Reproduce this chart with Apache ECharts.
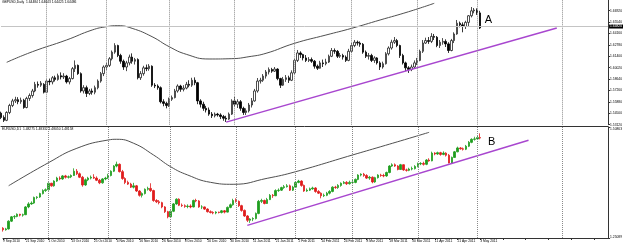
<!DOCTYPE html>
<html><head><meta charset="utf-8">
<script src="https://cdn.jsdelivr.net/npm/echarts/dist/echarts.min.js"></script>
<style>html,body{margin:0;padding:0;background:#fff}#c{width:625px;height:246px}</style>
</head><body><div id="c"></div>
<script>
// x-axis tick labels (every 8th daily bar)
const tickLabels = ['9 Sep 2010','21 Sep 2010','1 Oct 2010','13 Oct 2010','25 Oct 2010','4 Nov 2010','16 Nov 2010','26 Nov 2010','8 Dec 2010','20 Dec 2010','30 Dec 2010','11 Jan 2011','21 Jan 2011','2 Feb 2011','14 Feb 2011','24 Feb 2011','8 Mar 2011','18 Mar 2011','30 Mar 2011','11 Apr 2011','21 Apr 2011','3 May 2011'];
const slotCount = 214; // daily slots incl. empty right margin
const headers = ['GBPUSD,Daily  1.64484 1.64643 1.64425 1.64486', 'EURUSD,D1  1.48275 1.48332 1.48050 1.48158'];
// GBPUSD daily [open, close, low, high]
const gbpOHLC = [
[1.5452,1.5400,1.5380,1.5470],[1.5400,1.5365,1.5345,1.5425],[1.5365,1.5460,1.5355,1.5475],[1.5460,1.5545,1.5440,1.5565],
[1.5545,1.5600,1.5525,1.5625],[1.5600,1.5615,1.5575,1.5650],[1.5615,1.5590,1.5560,1.5645],[1.5590,1.5608,1.5565,1.5640],
[1.5608,1.5520,1.5505,1.5625],[1.5520,1.5630,1.5510,1.5650],[1.5630,1.5665,1.5600,1.5690],[1.5665,1.5720,1.5640,1.5745],
[1.5720,1.5800,1.5705,1.5830],[1.5800,1.5790,1.5760,1.5835],[1.5790,1.5815,1.5770,1.5840],[1.5800,1.5705,1.5690,1.5815],
[1.5705,1.5840,1.5700,1.5860],[1.5840,1.5830,1.5790,1.5870],[1.5830,1.5880,1.5800,1.5900],[1.5880,1.5860,1.5835,1.5905],
[1.5860,1.5905,1.5845,1.5930],[1.5905,1.5890,1.5860,1.5945],[1.5890,1.5900,1.5865,1.5935],[1.5900,1.5830,1.5810,1.5915],
[1.5830,1.5870,1.5800,1.5890],[1.5870,1.5990,1.5860,1.6010],[1.5990,1.6030,1.5950,1.6090],[1.6030,1.5930,1.5915,1.6040],
[1.5930,1.5720,1.5700,1.5945],[1.5720,1.5760,1.5690,1.5790],[1.5760,1.5690,1.5647,1.5785],[1.5690,1.5720,1.5670,1.5745],
[1.5720,1.5705,1.5675,1.5750],[1.5705,1.5760,1.5680,1.5785],[1.5760,1.5840,1.5740,1.5860],[1.5840,1.5930,1.5820,1.5950],
[1.5930,1.6010,1.5900,1.6030],[1.6010,1.6030,1.5975,1.6060],[1.6030,1.6110,1.6010,1.6130],[1.6110,1.6190,1.6090,1.6210],
[1.6190,1.6270,1.6170,1.6298],[1.6270,1.6150,1.6130,1.6280],[1.6150,1.6080,1.6050,1.6170],[1.6080,1.6010,1.5975,1.6100],
[1.6010,1.6060,1.5960,1.6085],[1.6060,1.6130,1.6030,1.6160],[1.6130,1.6080,1.6050,1.6175],[1.6080,1.6100,1.6040,1.6120],
[1.6100,1.5880,1.5860,1.6115],[1.5880,1.5930,1.5853,1.5960],[1.5930,1.6000,1.5905,1.6025],[1.6000,1.5990,1.5960,1.6040],
[1.5990,1.6020,1.5965,1.6045],[1.6020,1.5790,1.5770,1.6030],[1.5790,1.5780,1.5755,1.5815],[1.5780,1.5760,1.5735,1.5800],
[1.5760,1.5590,1.5570,1.5775],[1.5590,1.5570,1.5535,1.5620],[1.5570,1.5545,1.5510,1.5590],[1.5545,1.5620,1.5526,1.5640],
[1.5620,1.5640,1.5600,1.5665],[1.5640,1.5720,1.5630,1.5745],[1.5720,1.5780,1.5700,1.5800],[1.5780,1.5740,1.5710,1.5795],
[1.5740,1.5755,1.5715,1.5790],[1.5755,1.5800,1.5740,1.5830],[1.5800,1.5790,1.5765,1.5850],[1.5790,1.5850,1.5770,1.5880],
[1.5850,1.5820,1.5790,1.5885],[1.5820,1.5600,1.5560,1.5830],[1.5600,1.5560,1.5520,1.5620],[1.5560,1.5510,1.5480,1.5590],
[1.5510,1.5490,1.5460,1.5540],[1.5490,1.5440,1.5420,1.5520],[1.5440,1.5420,1.5393,1.5465],[1.5420,1.5440,1.5400,1.5460],
[1.5440,1.5430,1.5410,1.5455],[1.5430,1.5410,1.5380,1.5450],[1.5410,1.5390,1.5360,1.5430],[1.5390,1.5380,1.5345,1.5420],
[1.5380,1.5440,1.5370,1.5460],[1.5440,1.5600,1.5430,1.5620],[1.5600,1.5560,1.5530,1.5647],[1.5560,1.5590,1.5514,1.5620],
[1.5590,1.5510,1.5480,1.5610],[1.5510,1.5460,1.5430,1.5530],[1.5460,1.5480,1.5430,1.5510],[1.5480,1.5550,1.5460,1.5575],
[1.5550,1.5600,1.5520,1.5635],[1.5600,1.5720,1.5590,1.5745],[1.5720,1.5840,1.5700,1.5877],[1.5840,1.5850,1.5810,1.5880],
[1.5850,1.5900,1.5830,1.5925],[1.5900,1.5950,1.5870,1.5974],[1.5950,1.5980,1.5920,1.6005],[1.5980,1.5960,1.5940,1.6000],
[1.5960,1.5985,1.5950,1.6010],[1.5985,1.5870,1.5850,1.5995],[1.5870,1.5790,1.5756,1.5880],[1.5790,1.5860,1.5780,1.5890],
[1.5860,1.5880,1.5830,1.5913],[1.5880,1.5850,1.5817,1.5905],[1.5850,1.5940,1.5840,1.5970],[1.5940,1.6090,1.5920,1.6110],
[1.6090,1.6180,1.6070,1.6216],[1.6180,1.6160,1.6120,1.6200],[1.6160,1.6120,1.6090,1.6170],[1.6120,1.6090,1.6070,1.6155],
[1.6090,1.6100,1.6070,1.6130],[1.6100,1.6080,1.6060,1.6125],[1.6080,1.6020,1.5990,1.6095],[1.6020,1.5995,1.5974,1.6040],
[1.5995,1.6060,1.5990,1.6085],[1.6060,1.6050,1.6010,1.6100],[1.6050,1.6070,1.6030,1.6110],[1.6070,1.6140,1.6059,1.6160],
[1.6140,1.6210,1.6130,1.6240],[1.6210,1.6200,1.6170,1.6235],[1.6200,1.6140,1.6119,1.6216],[1.6140,1.6150,1.6120,1.6180],
[1.6150,1.6130,1.6100,1.6170],[1.6130,1.6090,1.6071,1.6150],[1.6090,1.6200,1.6080,1.6230],[1.6200,1.6270,1.6180,1.6300],
[1.6270,1.6310,1.6250,1.6337],[1.6310,1.6300,1.6270,1.6330],[1.6300,1.6285,1.6255,1.6320],[1.6285,1.6190,1.6170,1.6300],
[1.6190,1.6140,1.6119,1.6210],[1.6140,1.6150,1.6100,1.6180],[1.6150,1.6090,1.6070,1.6170],[1.6090,1.6120,1.6060,1.6140],
[1.6120,1.6060,1.6040,1.6130],[1.6060,1.6010,1.5974,1.6080],[1.6010,1.6050,1.5990,1.6075],[1.6050,1.6170,1.6040,1.6190],
[1.6170,1.6240,1.6150,1.6260],[1.6240,1.6310,1.6220,1.6340],[1.6310,1.6330,1.6290,1.6373],[1.6330,1.6270,1.6250,1.6350],
[1.6270,1.6150,1.6120,1.6280],[1.6150,1.6060,1.6040,1.6170],[1.6060,1.6000,1.5960,1.6075],[1.6000,1.5980,1.5938,1.6020],
[1.5980,1.6010,1.5960,1.6040],[1.6010,1.6060,1.5990,1.6090],[1.6060,1.6090,1.6034,1.6120],[1.6090,1.6200,1.6080,1.6220],
[1.6200,1.6300,1.6180,1.6337],[1.6300,1.6330,1.6290,1.6365],[1.6330,1.6320,1.6290,1.6373],[1.6320,1.6380,1.6300,1.6420],
[1.6380,1.6370,1.6337,1.6410],[1.6370,1.6270,1.6250,1.6385],[1.6270,1.6310,1.6240,1.6337],[1.6310,1.6320,1.6280,1.6360],
[1.6320,1.6290,1.6252,1.6345],[1.6290,1.6210,1.6180,1.6310],[1.6210,1.6330,1.6200,1.6350],[1.6330,1.6410,1.6300,1.6430],
[1.6410,1.6540,1.6400,1.6579],[1.6540,1.6520,1.6490,1.6560],[1.6520,1.6500,1.6430,1.6550],[1.6500,1.6550,1.6470,1.6570],
[1.6550,1.6630,1.6494,1.6639],[1.6630,1.6690,1.6610,1.6736],[1.6690,1.6700,1.6660,1.6724],[1.6700,1.6665,1.6640,1.6720],
[1.6665,1.6482,1.6470,1.6690]
];
// EURUSD daily [open, close, low, high]
const eurOHLC = [
[1.2735,1.2700,1.2657,1.2760],[1.2700,1.2720,1.2680,1.2745],[1.2720,1.2900,1.2705,1.2920],[1.2900,1.3000,1.2880,1.3020],
[1.3000,1.3010,1.2950,1.3040],[1.3010,1.3060,1.2990,1.3080],[1.3060,1.3040,1.3010,1.3070],[1.3040,1.3050,1.3005,1.3075],
[1.3050,1.3230,1.3040,1.3250],[1.3230,1.3300,1.3200,1.3340],[1.3300,1.3320,1.3280,1.3360],[1.3320,1.3450,1.3300,1.3470],
[1.3450,1.3460,1.3410,1.3480],[1.3460,1.3540,1.3440,1.3560],[1.3540,1.3610,1.3520,1.3640],[1.3610,1.3630,1.3580,1.3660],
[1.3630,1.3780,1.3610,1.3800],[1.3780,1.3720,1.3700,1.3790],[1.3720,1.3830,1.3700,1.3850],[1.3830,1.3900,1.3810,1.3930],
[1.3900,1.3880,1.3850,1.3940],[1.3880,1.3950,1.3860,1.3970],[1.3950,1.3920,1.3890,1.3975],[1.3920,1.3930,1.3890,1.3960],
[1.3930,1.3960,1.3900,1.3985],[1.3960,1.4060,1.3950,1.4127],[1.4060,1.4000,1.3970,1.4110],[1.4000,1.3920,1.3900,1.4030],
[1.3920,1.3740,1.3700,1.3950],[1.3740,1.3860,1.3720,1.3890],[1.3860,1.3900,1.3830,1.3930],[1.3900,1.3920,1.3870,1.3960],
[1.3920,1.3900,1.3880,1.3990],[1.3900,1.3850,1.3830,1.3940],[1.3850,1.3790,1.3760,1.3880],[1.3790,1.3880,1.3770,1.3900],
[1.3880,1.3900,1.3850,1.3930],[1.3900,1.3960,1.3880,1.4000],[1.3960,1.4060,1.3940,1.4080],[1.4060,1.4180,1.4040,1.4200],
[1.4180,1.4220,1.4150,1.4282],[1.4220,1.4050,1.4030,1.4240],[1.4050,1.3890,1.3860,1.4090],[1.3890,1.3800,1.3760,1.3920],
[1.3800,1.3760,1.3740,1.3840],[1.3760,1.3690,1.3670,1.3790],[1.3690,1.3720,1.3660,1.3790],[1.3720,1.3600,1.3580,1.3740],
[1.3600,1.3500,1.3470,1.3620],[1.3500,1.3540,1.3450,1.3570],[1.3540,1.3640,1.3520,1.3660],[1.3640,1.3660,1.3610,1.3700],
[1.3660,1.3610,1.3580,1.3780],[1.3610,1.3380,1.3350,1.3630],[1.3380,1.3350,1.3320,1.3410],[1.3350,1.3330,1.3290,1.3390],
[1.3330,1.3230,1.3200,1.3350],[1.3230,1.3120,1.3090,1.3250],[1.3120,1.3000,1.2966,1.3140],[1.3000,1.3130,1.2990,1.3150],
[1.3130,1.3300,1.3110,1.3320],[1.3300,1.3410,1.3280,1.3430],[1.3410,1.3270,1.3250,1.3430],[1.3270,1.3260,1.3230,1.3310],
[1.3260,1.3240,1.3210,1.3290],[1.3240,1.3250,1.3200,1.3290],[1.3250,1.3230,1.3200,1.3290],[1.3230,1.3380,1.3220,1.3400],
[1.3380,1.3370,1.3340,1.3420],[1.3370,1.3230,1.3210,1.3390],[1.3230,1.3230,1.3180,1.3270],[1.3230,1.3180,1.3160,1.3240],
[1.3180,1.3120,1.3100,1.3200],[1.3120,1.3100,1.3080,1.3150],[1.3100,1.3090,1.3060,1.3130],[1.3090,1.3110,1.3060,1.3130],
[1.3110,1.3100,1.3080,1.3120],[1.3100,1.3140,1.3080,1.3160],[1.3140,1.3110,1.3080,1.3160],[1.3110,1.3220,1.3100,1.3240],
[1.3220,1.3280,1.3200,1.3310],[1.3280,1.3380,1.3260,1.3420],[1.3380,1.3360,1.3330,1.3430],[1.3360,1.3260,1.3230,1.3380],
[1.3260,1.3150,1.3120,1.3280],[1.3150,1.3020,1.3000,1.3170],[1.3020,1.2920,1.2880,1.3040],[1.2920,1.2950,1.2860,1.2970],
[1.2950,1.2960,1.2900,1.2990],[1.2960,1.3080,1.2940,1.3100],[1.3080,1.3360,1.3060,1.3392],[1.3360,1.3380,1.3320,1.3420],
[1.3380,1.3310,1.3290,1.3400],[1.3310,1.3400,1.3300,1.3440],[1.3400,1.3500,1.3390,1.3530],[1.3500,1.3490,1.3440,1.3530],
[1.3490,1.3610,1.3480,1.3640],[1.3610,1.3620,1.3580,1.3660],[1.3620,1.3680,1.3600,1.3700],[1.3680,1.3700,1.3650,1.3740],
[1.3700,1.3720,1.3680,1.3760],[1.3720,1.3620,1.3600,1.3750],[1.3620,1.3690,1.3600,1.3720],[1.3690,1.3800,1.3680,1.3830],
[1.3800,1.3830,1.3780,1.3860],[1.3830,1.3730,1.3700,1.3850],[1.3730,1.3600,1.3580,1.3750],[1.3600,1.3620,1.3580,1.3660],
[1.3620,1.3650,1.3600,1.3680],[1.3650,1.3670,1.3630,1.3700],[1.3670,1.3590,1.3560,1.3690],[1.3590,1.3550,1.3530,1.3620],
[1.3550,1.3490,1.3430,1.3570],[1.3490,1.3500,1.3460,1.3540],[1.3500,1.3550,1.3480,1.3580],[1.3550,1.3590,1.3520,1.3620],
[1.3590,1.3690,1.3570,1.3710],[1.3690,1.3680,1.3650,1.3720],[1.3680,1.3730,1.3650,1.3760],[1.3730,1.3780,1.3700,1.3800],
[1.3780,1.3800,1.3760,1.3830],[1.3800,1.3770,1.3740,1.3830],[1.3770,1.3800,1.3750,1.3840],[1.3800,1.3800,1.3760,1.3860],
[1.3800,1.3870,1.3780,1.3890],[1.3870,1.3970,1.3850,1.3990],[1.3970,1.3990,1.3940,1.4011],[1.3990,1.3960,1.3930,1.4020],
[1.3960,1.3900,1.3880,1.3990],[1.3900,1.3920,1.3860,1.3950],[1.3920,1.3810,1.3780,1.3940],[1.3810,1.3910,1.3790,1.3930],
[1.3910,1.3970,1.3890,1.3990],[1.3970,1.3960,1.3930,1.4000],[1.3960,1.3950,1.3920,1.4000],[1.3950,1.4030,1.3930,1.4050],
[1.4030,1.4180,1.4011,1.4200],[1.4180,1.4210,1.4160,1.4243],[1.4210,1.4180,1.4160,1.4240],[1.4180,1.4100,1.4080,1.4200],
[1.4100,1.4210,1.4089,1.4230],[1.4210,1.4090,1.4070,1.4220],[1.4090,1.4080,1.4050,1.4120],[1.4080,1.4110,1.4060,1.4140],
[1.4110,1.4120,1.4080,1.4166],[1.4120,1.4170,1.4100,1.4200],[1.4170,1.4230,1.4150,1.4260],[1.4230,1.4240,1.4200,1.4270],
[1.4240,1.4220,1.4190,1.4280],[1.4220,1.4320,1.4200,1.4340],[1.4320,1.4300,1.4280,1.4360],[1.4300,1.4480,1.4290,1.4514],
[1.4480,1.4460,1.4430,1.4500],[1.4460,1.4490,1.4440,1.4514],[1.4490,1.4450,1.4420,1.4510],[1.4450,1.4480,1.4430,1.4520],
[1.4480,1.4430,1.4400,1.4500],[1.4430,1.4250,1.4243,1.4460],[1.4250,1.4380,1.4240,1.4400],[1.4380,1.4510,1.4370,1.4530],
[1.4510,1.4600,1.4500,1.4630],[1.4600,1.4580,1.4560,1.4620],[1.4580,1.4570,1.4540,1.4610],[1.4570,1.4640,1.4550,1.4670],
[1.4640,1.4730,1.4620,1.4760],[1.4730,1.4800,1.4710,1.4824],[1.4800,1.4810,1.4770,1.4860],[1.4810,1.4840,1.4790,1.4900],
[1.4840,1.4830,1.4800,1.4940]
];
// drawn cycle curves [barIndex, price]
const gbpCurve = [[2,1.6067],[11,1.6195],[23,1.6337],[32,1.6458],[37,1.6498],[41,1.6510],[46,1.6478],[53,1.6377],[59,1.6256],[65,1.6164],[73,1.6107],[81,1.6111],[87,1.6135],[93,1.6176],[103,1.6297],[114,1.6397],[123,1.6478],[133,1.6579],[143,1.6679],[152,1.6781]];
const eurCurve = [[2,1.3723],[16,1.4257],[26,1.4592],[37,1.4784],[40,1.4801],[46,1.4708],[53,1.4436],[59,1.4164],[65,1.3972],[73,1.3802],[81,1.3756],[93,1.3895],[103,1.4048],[123,1.4436],[133,1.4629],[143,1.4824],[150,1.4963]];
// trend lines
const gbpTrend = [[79,1.5343],[195,1.6481]];
const eurTrend = [[86,1.2802],[185,1.4779]];
// period separators (bar index of month start) + extra vertical line
const separators = [16,37,59,82,103,123,146,167,197];
// price scales
const gbpScale = {min:1.5312, max:1.68209, step:0.0138};
const eurScale = {min:1.25089, max:1.50863};
const gbpLast = 1.6482;
const notes = [{text:'A', at:[171,1.6579]}, {text:'B', at:[172,1.4738]}];

const categories = Array.from({length: slotCount}, (_, i) => String(i));
const small = 3.3;
const FONT = 'Liberation Sans';
const sepLines = separators.map(i => ({xAxis: i}));
const sepStyle = {type:'dotted', color:'#8a8a8a', width:1};

const chart = echarts.init(document.getElementById('c'), null, {renderer:'canvas'});
chart.setOption({
  animation:false,
  backgroundColor:'#fff',
  textStyle:{fontFamily:FONT},
  title:[
    {text:headers[0], left:2, top:1, padding:0, textStyle:{fontSize:small, fontWeight:'normal', color:'#000', fontFamily:FONT}},
    {text:headers[1], left:2, top:128, padding:0, textStyle:{fontSize:small, fontWeight:'normal', color:'#000', fontFamily:FONT}}
  ],
  grid:[
    {left:1, top:0, width:610, height:124.7},
    {left:1, top:127, width:610, height:111}
  ],
  xAxis:[
    {type:'category', gridIndex:0, data:categories, boundaryGap:false, offset:2,
     axisLine:{show:true, lineStyle:{color:'#333', width:1}}, axisTick:{show:false}, axisLabel:{show:false}, splitLine:{show:false}},
    {type:'category', gridIndex:1, data:categories, boundaryGap:false,
     axisLine:{show:true, lineStyle:{color:'#333', width:1}},
     axisTick:{show:true, interval:7, length:2, lineStyle:{color:'#333'}},
     axisLabel:{interval:7, align:'left', fontSize:small, margin:2, color:'#000', fontFamily:FONT,
       formatter:(v, i) => tickLabels[i / 8] || ''},
     splitLine:{show:false}}
  ],
  yAxis:[
    {type:'value', gridIndex:0, position:'right', min:gbpScale.min, max:gbpScale.max, interval:gbpScale.step,
     splitLine:{show:false}, axisLine:{show:true, lineStyle:{color:'#333'}}, axisTick:{show:true, length:2, lineStyle:{color:'#333'}},
     axisLabel:{fontSize:small, margin:2, color:'#000', fontFamily:FONT, showMaxLabel:false, formatter:v => v.toFixed(5)}},
    {type:'value', gridIndex:1, position:'right', min:eurScale.min, max:eurScale.max, interval:eurScale.max - eurScale.min,
     splitLine:{show:false}, axisLine:{show:true, lineStyle:{color:'#333'}}, axisTick:{show:true, length:2, lineStyle:{color:'#333'}},
     axisLabel:{fontSize:small, margin:2, color:'#000', fontFamily:FONT,
       formatter:v => (Math.abs(v - eurScale.max) < 1e-6 ? '{t|' : '{b|') + v.toFixed(5) + '}',
       rich:{t:{fontSize:small, padding:[4,0,0,0], color:'#000'}, b:{fontSize:small, padding:[0,0,2,0], color:'#000'}}}}
  ],
  series:[
    {type:'candlestick', name:'GBPUSD', xAxisIndex:0, yAxisIndex:0, data:gbpOHLC, barWidth:2, clip:false,
     itemStyle:{color:'#ffffff', color0:'#000000', borderColor:'#222222', borderColor0:'#000000', borderWidth:0.8},
     markLine:{symbol:'none', silent:true, animation:false,
       data:[...sepLines.map(d => Object.assign({}, d, {lineStyle:sepStyle, label:{show:false}})),
         {yAxis:gbpLast, lineStyle:{type:'solid', color:'#c4c4c4', width:1},
          label:{show:true, position:'end', distance:1, formatter:gbpLast.toFixed(5), backgroundColor:'#000', color:'#fff', fontSize:small, padding:[1,1,0,1], fontFamily:FONT}}]},
     markPoint:{silent:true, symbol:'circle', symbolSize:1, itemStyle:{color:'rgba(0,0,0,0)'},
       data:[{coord:[notes[0].at[0], notes[0].at[1]], label:{show:true, position:'inside', formatter:notes[0].text, fontSize:11, color:'#000', fontFamily:FONT}}]}},
    {type:'line', xAxisIndex:0, yAxisIndex:0, data:gbpCurve, smooth:true, showSymbol:false, silent:true,
     lineStyle:{color:'#505050', width:1}},
    {type:'line', xAxisIndex:0, yAxisIndex:0, data:gbpTrend, showSymbol:false, silent:true,
     lineStyle:{color:'#a846cf', width:1.5}},
    {type:'candlestick', name:'EURUSD', xAxisIndex:1, yAxisIndex:1, data:eurOHLC, barWidth:2, clip:false,
     itemStyle:{color:'#1f9e1f', color0:'#e01c1c', borderColor:'#1f9e1f', borderColor0:'#e01c1c', borderWidth:0.8},
     markLine:{symbol:'none', silent:true, animation:false,
       data:sepLines.map(d => Object.assign({}, d, {lineStyle:sepStyle, label:{show:false}}))},
     markPoint:{silent:true, symbol:'circle', symbolSize:1, itemStyle:{color:'rgba(0,0,0,0)'},
       data:[{coord:[notes[1].at[0], notes[1].at[1]], label:{show:true, position:'inside', formatter:notes[1].text, fontSize:11, color:'#000', fontFamily:FONT}}]}},
    {type:'line', xAxisIndex:1, yAxisIndex:1, data:eurCurve, smooth:true, showSymbol:false, silent:true,
     lineStyle:{color:'#505050', width:1}},
    {type:'line', xAxisIndex:1, yAxisIndex:1, data:eurTrend, showSymbol:false, silent:true,
     lineStyle:{color:'#a846cf', width:1.5}}
  ]
});
</script>
</body></html>
